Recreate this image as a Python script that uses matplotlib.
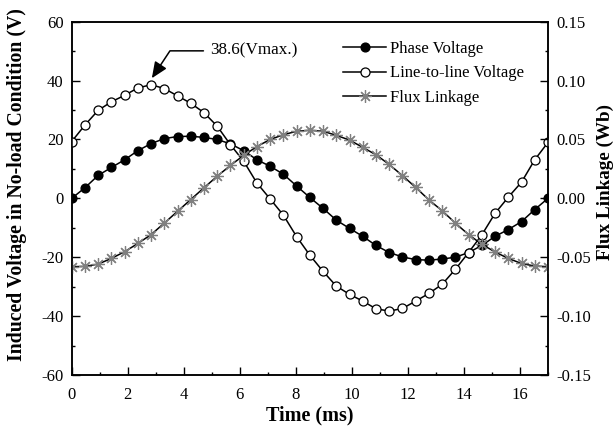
import numpy as np
import matplotlib
matplotlib.use("Agg")
import matplotlib.pyplot as plt
from matplotlib.ticker import MultipleLocator, FormatStrFormatter
from matplotlib.lines import Line2D

# ---- data ----
time_ms = np.linspace(0, 17, 37)

phase_voltage = [0.0, 3.6, 7.8, 10.5, 13.1, 16.2, 18.6, 20.3, 21.0, 21.1,
                 20.7, 20.0, 18.5, 16.2, 13.1, 10.9, 8.2, 4.2, 0.3,
                 -3.4, -7.4, -10.2, -12.9, -16.0, -18.4, -19.9, -20.8, -21.0,
                 -20.6, -20.0, -18.4, -16.0, -12.9, -10.6, -7.9, -3.8, 0.0]

line_voltage = [19.3, 24.9, 29.9, 32.8, 35.0, 37.5, 38.6, 37.3, 34.8, 32.3,
                29.1, 24.5, 18.2, 12.6, 5.2, -0.2, -5.7, -13.0, -19.3,
                -24.8, -29.8, -32.6, -34.9, -37.5, -38.3, -37.4, -34.9, -32.3,
                -29.2, -24.1, -18.4, -12.4, -5.1, 0.4, 5.5, 13.1, 19.0]

flux_linkage = [-0.058, -0.0578, -0.0558, -0.051, -0.0453, -0.0383, -0.0308, -0.021, -0.011, -0.001,
                0.009, 0.0188, 0.028, 0.0365, 0.044, 0.050, 0.054, 0.057, 0.0578,
                0.057, 0.0535, 0.0495, 0.0433, 0.037, 0.0288, 0.0193, 0.0093, -0.0013,
                -0.0105, -0.021, -0.0308, -0.039, -0.0455, -0.051, -0.0553, -0.0575, -0.058]

series_names = ["Phase Voltage", "Line-to-line Voltage", "Flux Linkage"]
vmax_label = "38.6(Vmax.)"

plt.rcParams["font.family"] = ["Liberation Serif", "DejaVu Serif"]
plt.rcParams["axes.unicode_minus"] = False

fig = plt.figure(figsize=(6.15, 4.28), dpi=100)
ax = fig.add_axes([0.1166, 0.1238, 0.7744, 0.8255])
ax2 = ax.twinx()

lw = 1.1
star = (8, 2, 0)

ax.plot(time_ms, phase_voltage, color="black", lw=lw, marker="o", ms=6.3,
        mfc="black", mec="black", zorder=3)
ax.plot(time_ms, line_voltage, color="black", lw=lw, marker="o", ms=6.5,
        mfc="white", mec="black", mew=0.9, zorder=3)
ax2.plot(time_ms, flux_linkage, color="black", lw=lw, marker=star, ms=9,
         mec="#808080", mew=0.9, zorder=2)

ax.set_xlim(0, 17)
ax.set_ylim(-60, 60)
ax2.set_ylim(-0.15, 0.15)

ax.xaxis.set_major_locator(MultipleLocator(2))
ax.xaxis.set_minor_locator(MultipleLocator(1))
ax.yaxis.set_major_locator(MultipleLocator(20))
ax.yaxis.set_minor_locator(MultipleLocator(10))
ax2.yaxis.set_major_locator(MultipleLocator(0.05))
ax2.yaxis.set_minor_locator(MultipleLocator(0.025))
ax2.yaxis.set_major_formatter(FormatStrFormatter("%.2f"))

for a in (ax, ax2):
    for s in a.spines.values():
        s.set_linewidth(1.1)

ax.tick_params(axis="both", which="both", direction="in", top=False, right=False,
               labelsize=12, width=1.0)
ax.tick_params(which="major", length=5.5)
ax.tick_params(which="minor", length=2.5)
ax.tick_params(axis="x", pad=8.5)
ax.tick_params(axis="y", pad=6)
ax2.tick_params(axis="y", which="both", direction="in", labelsize=12, width=1.0, pad=6)
ax2.tick_params(which="major", length=5.5)
ax2.tick_params(which="minor", length=2.5)

ax.set_xlabel("Time (ms)", fontsize=14.5, fontweight="bold")
ax.set_ylabel("Induced Voltage in No-load Condition (V)", fontsize=14.2, fontweight="bold")
ax2.set_ylabel("Flux Linkage (Wb)", fontsize=13.8, fontweight="bold", rotation=90)
ax.xaxis.set_label_coords(0.5, -0.085)
ax.yaxis.set_label_coords(-0.094, 0.538)
ax2.yaxis.set_label_coords(1.103, 0.546)

ax.annotate(vmax_label, xy=(2.86, 40.8), xytext=(4.95, 50.1), xycoords="data",
            textcoords="data", ha="left", va="center", fontsize=12.3,
            arrowprops=dict(arrowstyle="-|>,head_length=0.7,head_width=0.3",
                            connectionstyle="angle,angleA=0,angleB=56.5,rad=0",
                            color="black", lw=1.1, shrinkA=3, shrinkB=0,
                            relpos=(0, 0.5), mutation_scale=14))

handles = [
    Line2D([], [], color="black", lw=lw, marker="o", ms=6.3, mfc="black", mec="black"),
    Line2D([], [], color="black", lw=lw, marker="o", ms=6.5, mfc="white", mec="black", mew=0.9),
    Line2D([], [], color="black", lw=lw, marker=star, ms=9, mec="#808080", mew=0.9),
]
ax2.legend(handles, series_names, loc="upper left", bbox_to_anchor=(0.5696, 0.945),
           frameon=False, fontsize=12, handlelength=2.6, handletextpad=0.2,
           labelspacing=0.5, borderpad=0, borderaxespad=0)

fig.savefig("out.png", dpi=100)
